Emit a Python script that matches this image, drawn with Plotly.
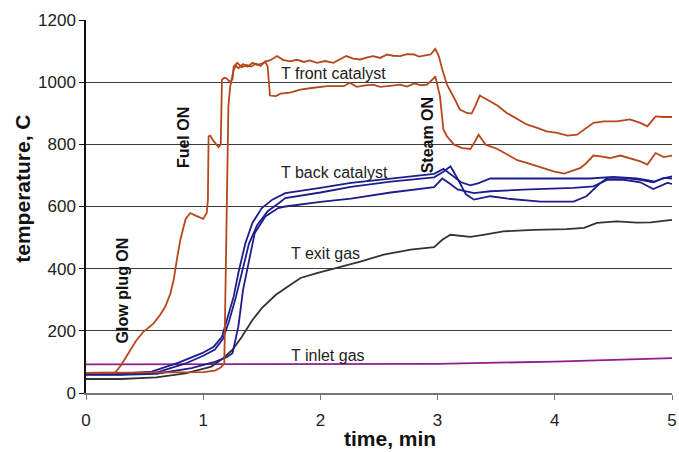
import plotly.graph_objects as go

# ---- data (time in min, temperature in C) ----
front1_t = [0, 0.25, 0.30, 0.364, 0.43, 0.49, 0.577, 0.63, 0.677, 0.72, 0.748, 0.78, 0.805, 0.85, 0.89, 0.94,
            1.0, 1.03, 1.04, 1.046, 1.06, 1.08, 1.13, 1.15, 1.16, 1.18, 1.2, 1.23, 1.25, 1.26, 1.29, 1.33,
            1.37, 1.41, 1.45, 1.49, 1.53, 1.57, 1.63, 1.68, 1.74, 1.80, 1.86, 1.91, 1.97, 2.04, 2.11, 2.16,
            2.22, 2.28, 2.34, 2.40, 2.45, 2.51, 2.57, 2.62, 2.68, 2.74, 2.80, 2.84, 2.88, 2.94, 2.98, 3.01,
            3.04, 3.08, 3.14, 3.19, 3.25, 3.29, 3.32, 3.36, 3.42, 3.51, 3.59, 3.68, 3.76, 3.85, 3.93, 4.02,
            4.11, 4.19, 4.25, 4.33, 4.42, 4.53, 4.64, 4.73, 4.79, 4.86, 4.93, 5.0]
front1_T = [65, 66, 90, 128, 170, 197, 224, 250, 278, 320, 364, 440, 493, 560, 579, 570,
            560, 579, 620, 826, 828, 815, 791, 800, 1008, 1014, 1012, 1000, 1010, 1050, 1062, 1048,
            1055, 1050, 1060, 1052, 1067, 1070, 1084, 1072, 1067, 1072, 1065, 1070, 1062, 1068, 1062, 1072,
            1084, 1076, 1073, 1080, 1084, 1078, 1089, 1085, 1084, 1090, 1089, 1082, 1084, 1089, 1107, 1084,
            1041, 992, 950, 912, 901, 899, 922, 957, 944, 925, 901, 880, 864, 853, 842, 837,
            828, 831, 847, 869, 874, 874, 880, 869, 858, 890, 888, 888]

front2_t = [0, 0.5, 1.0, 1.1, 1.15, 1.18, 1.19, 1.215, 1.23, 1.245, 1.26, 1.28, 1.30, 1.34, 1.38, 1.42,
            1.46, 1.50, 1.53, 1.55, 1.57, 1.62, 1.66, 1.74, 1.83, 1.94, 2.06, 2.2, 2.25, 2.31, 2.38, 2.45,
            2.51, 2.57, 2.62, 2.68, 2.74, 2.8, 2.86, 2.91, 2.97, 2.98, 3.02, 3.04, 3.05, 3.08, 3.14, 3.21,
            3.28, 3.32, 3.35, 3.38, 3.41, 3.51, 3.59, 3.68, 3.76, 3.85, 3.93, 3.99, 4.08, 4.13, 4.22, 4.27,
            4.33, 4.39, 4.47, 4.56, 4.64, 4.73, 4.79, 4.86, 4.93, 5.0]
front2_T = [65, 65, 67, 72, 82, 95, 300, 922, 985, 1019, 1040, 1053, 1045, 1058, 1050, 1062,
            1055, 1060, 1065, 1050, 957, 955, 963, 966, 976, 982, 987, 987, 998, 985, 990, 992,
            985, 987, 990, 992, 986, 996, 990, 992, 1014, 1019, 955, 890, 847, 826, 799, 788,
            785, 810, 831, 815, 799, 785, 767, 749, 740, 729, 721, 713, 706, 713, 724, 740,
            764, 761, 756, 764, 756, 745, 735, 772, 759, 764]

backA_t = [0, 0.3, 0.56, 0.79, 0.99, 1.09, 1.16, 1.2, 1.26, 1.3, 1.36, 1.42, 1.5, 1.59, 1.7, 2.0,
           2.26, 2.6, 2.97, 3.05, 3.12, 3.2, 3.28, 3.35, 3.45, 3.7, 4.0, 4.3, 4.5, 4.7, 4.8, 4.85, 4.92, 5.0]
backA_T = [62, 62, 69, 98, 128, 149, 181, 235, 310, 386, 482, 547, 595, 622, 643, 660,
           676, 690, 705, 721, 700, 678, 668, 675, 690, 690, 688, 690, 695, 690, 684, 680, 690, 697]

backB_t = [0, 0.3, 0.6, 0.85, 1.0, 1.1, 1.17, 1.22, 1.28, 1.33, 1.39, 1.46, 1.55, 1.65, 1.7, 2.0,
           2.26, 2.6, 2.97, 3.05, 3.11, 3.17, 3.24, 3.31, 3.45, 3.6, 3.88, 4.16, 4.27, 4.39, 4.45, 4.59,
           4.73, 4.84, 4.93, 5.0]
backB_T = [60, 60, 66, 95, 120, 140, 175, 230, 310, 390, 480, 540, 585, 612, 627, 645,
           663, 680, 694, 712, 729, 690, 640, 622, 633, 625, 616, 616, 633, 676, 692, 692,
           686, 678, 692, 690]

backC_t = [0, 0.3, 0.6, 0.9, 1.1, 1.2, 1.25, 1.3, 1.34, 1.39, 1.44, 1.53, 1.64, 1.7, 2.0, 2.26,
           2.6, 2.97, 3.04, 3.1, 3.17, 3.31, 3.45, 3.73, 4.16, 4.33, 4.45, 4.59, 4.73, 4.84, 4.96, 5.0]
backC_T = [58, 58, 62, 80, 100, 115, 128, 214, 332, 418, 515, 568, 595, 600, 615, 625,
           645, 662, 690, 675, 655, 643, 649, 654, 660, 665, 686, 686, 678, 656, 676, 673]

exit_t = [0, 0.3, 0.6, 0.85, 1.07, 1.17, 1.25, 1.33, 1.42, 1.5, 1.62, 1.7, 1.83, 1.97, 2.14, 2.34,
          2.54, 2.77, 2.97, 3.04, 3.11, 3.2, 3.28, 3.39, 3.56, 3.82, 4.1, 4.25, 4.36, 4.53, 4.7, 4.82, 5.0]
exit_T = [45, 45, 50, 63, 85, 112, 139, 181, 235, 273, 316, 337, 370, 386, 402, 423,
          445, 461, 469, 493, 509, 505, 502, 509, 520, 525, 527, 531, 547, 552, 548, 549, 557]

inlet_t = [0, 1, 2, 3, 4, 5]
inlet_T = [92, 92, 92, 94, 101, 112]

x_ticks = [0, 1, 2, 3, 4, 5]
y_ticks = [0, 200, 400, 600, 800, 1000, 1200]

for a, b in [(front1_t, front1_T), (front2_t, front2_T), (backA_t, backA_T), (backB_t, backB_T),
             (backC_t, backC_T), (exit_t, exit_T), (inlet_t, inlet_T)]:
    assert len(a) == len(b), (len(a), len(b))

ORANGE = "#b5471d"
BLUE = "#1d1d8e"
GRAY = "#333333"
PURPLE = "#8e1e8e"

fig = go.Figure()
for tt, TT, col in [(inlet_t, inlet_T, PURPLE), (exit_t, exit_T, GRAY),
                    (backC_t, backC_T, BLUE), (backB_t, backB_T, BLUE), (backA_t, backA_T, BLUE),
                    (front2_t, front2_T, ORANGE), (front1_t, front1_T, ORANGE)]:
    fig.add_trace(go.Scatter(x=tt, y=TT, mode="lines", line=dict(color=col, width=1.8),
                             showlegend=False, hoverinfo="skip"))

FONT = "Liberation Sans, Arial, sans-serif"
labels = [("T front catalyst", 2.113, 1029), ("T back catalyst", 2.119, 709),
          ("T exit gas", 2.042, 448), ("T inlet gas", 2.063, 122)]
for txt, x, y in labels:
    fig.add_annotation(x=x, y=y, text=txt, showarrow=False, xanchor="center", yanchor="middle",
                       font=dict(family=FONT, size=16, color="#222"))
events = [("Glow plug ON", 0.307, 330), ("Fuel ON", 0.833, 822), ("Steam ON", 2.91, 829)]
for txt, x, y in events:
    fig.add_annotation(x=x, y=y, text="<b>%s</b>" % txt, showarrow=False, textangle=-90,
                       xanchor="center", yanchor="middle",
                       font=dict(family=FONT, size=16, color="#111"))

fig.add_annotation(xref="paper", yref="paper", x=0.518, y=-0.121, text="<b>time, min</b>",
                   showarrow=False, xanchor="center", yanchor="middle",
                   font=dict(family=FONT, size=21, color="#111"))
fig.add_annotation(xref="paper", yref="paper", x=-0.109, y=0.548, text="<b>temperature, C</b>",
                   showarrow=False, textangle=-90, xanchor="center", yanchor="middle",
                   font=dict(family=FONT, size=21, color="#111"))

fig.update_layout(
    width=679, height=452,
    margin=dict(l=86, r=7, t=20, b=59, autoexpand=False),
    paper_bgcolor="white", plot_bgcolor="white",
    font=dict(family=FONT, size=17, color="#222"),
)
fig.update_xaxes(range=[0, 5], tickvals=x_ticks, showgrid=False, zeroline=False, automargin=False,
                 showline=True, linecolor="#777", linewidth=1.5,
                 ticks="outside", ticklen=5, tickcolor="#777", tickwidth=1.2,
                 ticklabelstandoff=6, tickfont=dict(size=17, color="#222"))
fig.update_yaxes(range=[0, 1200], tickvals=y_ticks, showgrid=True, gridcolor="#3c3c3c", automargin=False,
                 gridwidth=1, zeroline=False, showline=True, linecolor="#111", linewidth=1.5,
                 ticks="outside", ticklen=5, tickcolor="#111", tickwidth=1.2,
                 tickfont=dict(size=17, color="#222"))

fig.write_html("out.html")
